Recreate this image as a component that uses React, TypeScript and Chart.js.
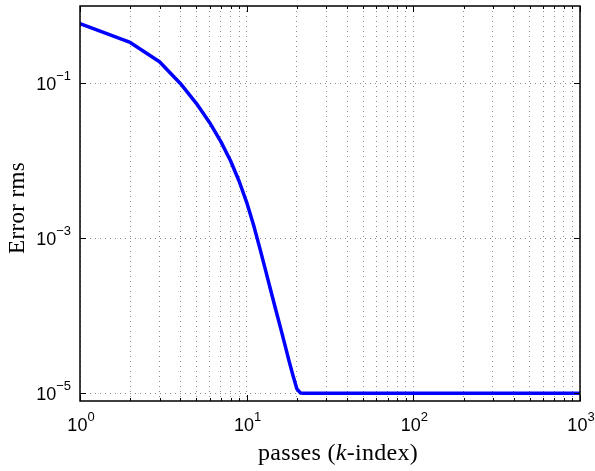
import React, { useEffect, useRef } from 'react';
import { Chart, registerables } from 'chart.js';

Chart.register(...registerables);

// ---- data ----
const passes = [1, 2, 3, 4, 5, 6, 7, 8, 9, 10, 11, 12, 13, 14, 15, 16, 17, 18, 19, 20, 21, 22, 30, 100, 1000];
const errorRms = [
  0.594, 0.338, 0.191, 0.1, 0.055, 0.0312, 0.01774, 0.01003, 0.0055, 0.00292,
  0.001484, 0.000743, 0.000383, 0.000206, 0.000116, 0.0000688, 0.0000415, 0.0000256,
  0.0000167, 0.0000114, 0.0000101, 0.00001, 0.00001, 0.00001, 0.00001,
];
const xTickExponents = [0, 1, 2, 3];
const yTickExponents = [-5, -3, -1];
const xMinorMultipliers = [2, 3, 4, 5, 6, 7, 8, 9];
const xTitle = [
  { text: 'passes (', italic: false },
  { text: 'k', italic: true },
  { text: '-index)', italic: false },
];
const yTitle = 'Error rms';

const SANS = '"Liberation Sans", Arial, Helvetica, sans-serif';
const SERIF = '"Liberation Serif", "Times New Roman", serif';

function drawPow(ctx: CanvasRenderingContext2D, exp: number, x: number, y: number, align: 'right' | 'center') {
  const base = '10';
  const expText = exp < 0 ? '\u2212' + Math.abs(exp) : String(exp);
  ctx.font = `18px ${SANS}`;
  const wb = ctx.measureText(base).width;
  ctx.font = `13px ${SANS}`;
  const we = ctx.measureText(expText).width;
  const total = wb + we;
  const x0 = align === 'right' ? x - total : x - total / 2;
  ctx.textBaseline = 'middle';
  ctx.textAlign = 'left';
  ctx.font = `18px ${SANS}`;
  ctx.fillText(base, x0, y);
  ctx.font = `13px ${SANS}`;
  ctx.fillText(expText, x0 + wb, y - 9);
}

const customPlugin = {
  id: 'matlabStyle',
  afterDraw(chart: any) {
    const ctx: CanvasRenderingContext2D = chart.ctx;
    const { left, right, top, bottom } = chart.chartArea;
    const xs = chart.scales.x;
    const ys = chart.scales.y;
    ctx.save();
    ctx.fillStyle = '#000';
    ctx.strokeStyle = '#000';

    // ticks (inward)
    ctx.lineWidth = 1;
    ctx.beginPath();
    for (const e of xTickExponents) {
      const px = Math.round(xs.getPixelForValue(Math.pow(10, e))) + 0.5;
      ctx.moveTo(px, bottom); ctx.lineTo(px, bottom - 6);
      ctx.moveTo(px, top); ctx.lineTo(px, top + 6);
      if (e < 3) {
        for (const m of xMinorMultipliers) {
          const p = Math.round(xs.getPixelForValue(m * Math.pow(10, e))) + 0.5;
          ctx.moveTo(p, bottom); ctx.lineTo(p, bottom - 3);
          ctx.moveTo(p, top); ctx.lineTo(p, top + 3);
        }
      }
    }
    for (const e of yTickExponents) {
      const py = Math.round(ys.getPixelForValue(Math.pow(10, e))) + 0.5;
      ctx.moveTo(left, py); ctx.lineTo(left + 6, py);
      ctx.moveTo(right, py); ctx.lineTo(right - 6, py);
    }
    ctx.stroke();

    // box
    ctx.lineWidth = 1.5;
    ctx.strokeRect(left, top, right - left, bottom - top);

    // tick labels
    for (const e of xTickExponents) {
      const px = xs.getPixelForValue(Math.pow(10, e));
      drawPow(ctx, e, px + 1, bottom + 25, 'center');
    }
    for (const e of yTickExponents) {
      const py = ys.getPixelForValue(Math.pow(10, e));
      drawPow(ctx, e, left - 9, py + 2, 'right');
    }

    // x title
    const size = 24;
    const targetW = 160;
    let w = 0;
    for (const s of xTitle) {
      ctx.font = `${s.italic ? 'italic ' : ''}${size}px ${SERIF}`;
      w += ctx.measureText(s.text).width;
    }
    const nChars = xTitle.reduce((a, s) => a + s.text.length, 0);
    const spacing = (targetW - w) / nChars;
    let cx = 338 - targetW / 2;
    ctx.textBaseline = 'alphabetic';
    ctx.textAlign = 'left';
    for (const s of xTitle) {
      ctx.font = `${s.italic ? 'italic ' : ''}${size}px ${SERIF}`;
      for (const ch of s.text) {
        ctx.fillText(ch, cx, 460);
        cx += ctx.measureText(ch).width + spacing;
      }
    }

    // y title
    ctx.save();
    ctx.translate(24, 208);
    ctx.rotate(-Math.PI / 2);
    ctx.font = `23px ${SERIF}`;
    const yw = ctx.measureText(yTitle).width;
    const ysp = (92 - yw) / yTitle.length;
    let cy = -46;
    for (const ch of yTitle) {
      ctx.fillText(ch, cy, 0);
      cy += ctx.measureText(ch).width + ysp;
    }
    ctx.restore();

    ctx.restore();
  },
};

export default function App() {
  const ref = useRef<HTMLCanvasElement | null>(null);
  useEffect(() => {
    if (!ref.current) return;
    const chart = new Chart(ref.current, {
      type: 'line',
      data: {
        datasets: [
          {
            data: passes.map((p, i) => ({ x: p, y: errorRms[i] })),
            borderColor: '#0000ff',
            borderWidth: 3.5,
            borderJoinStyle: 'round',
            pointRadius: 0,
            tension: 0,
            fill: false,
          },
        ],
      },
      options: {
        responsive: false,
        animation: false,
        layout: { padding: { top: 6, right: 15, left: 0, bottom: 0 } },
        plugins: { legend: { display: false }, tooltip: { enabled: false } },
        scales: {
          x: {
            type: 'logarithmic',
            min: 1,
            max: 1000,
            ticks: { display: false },
            grid: { color: '#8c8c8c', lineWidth: 1, drawTicks: false },
            border: { display: false, dash: [1, 4] },
            afterBuildTicks: (scale: any) => {
              const t: any[] = [];
              for (const e of xTickExponents) {
                t.push({ value: Math.pow(10, e) });
                if (e < 3) for (const m of xMinorMultipliers) t.push({ value: m * Math.pow(10, e) });
              }
              scale.ticks = t;
            },
            afterFit: (scale: any) => { scale.height = 70; },
          },
          y: {
            type: 'logarithmic',
            min: Math.pow(10, -5.1),
            max: 1,
            ticks: { display: false },
            grid: { color: '#8c8c8c', lineWidth: 1, drawTicks: false },
            border: { display: false, dash: [1, 4] },
            afterBuildTicks: (scale: any) => {
              scale.ticks = yTickExponents.map((e) => ({ value: Math.pow(10, e) }));
            },
            afterFit: (scale: any) => { scale.width = 80; },
          },
        },
      },
      plugins: [customPlugin],
    } as any);
    return () => chart.destroy();
  }, []);
  return (
    <div style={{ position: 'absolute', left: 0, top: 0, width: 595, height: 471, background: '#fff' }}>
      <canvas ref={ref} width={595} height={471} style={{ width: 595, height: 471 }} />
    </div>
  );
}
